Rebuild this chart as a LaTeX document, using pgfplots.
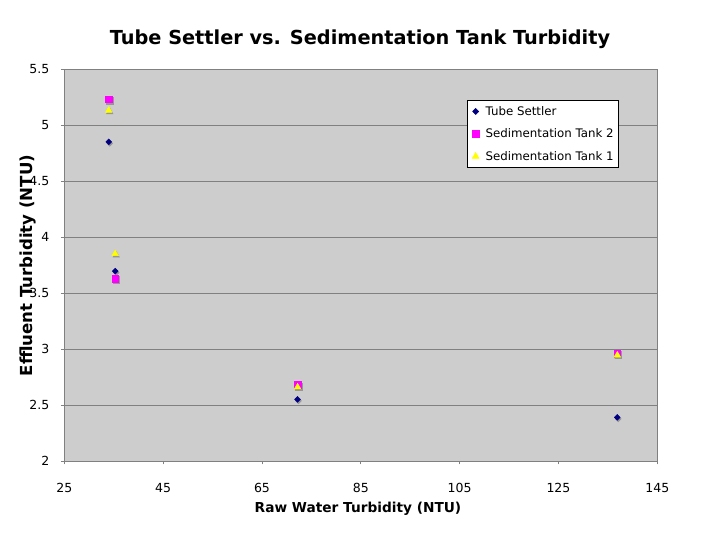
\documentclass[border=0pt]{standalone}
\usepackage{pgfplots}
\pgfplotsset{compat=1.18}
\usepackage{fontspec}
\setmainfont{DejaVu Sans}
\definecolor{plotbg}{RGB}{205,205,205}
\definecolor{gridc}{RGB}{128,128,128}
\definecolor{navyc}{RGB}{0,0,128}
\definecolor{magc}{RGB}{255,0,255}
\definecolor{yelc}{RGB}{255,255,0}
\definecolor{shadowc}{RGB}{150,150,150}
\pgfplotstableread{
x y
34.0 4.85
35.3 3.695
72.2 2.55
136.9 2.39
}\tube
\pgfplotstableread{
x y
34.0 5.23
35.3 3.63
72.2 2.68
136.9 2.96
}\tanktwo
\pgfplotstableread{
x y
34.0 5.13
35.3 3.85
72.2 2.66
136.9 2.945
}\tankone
\begin{document}
\begin{tikzpicture}
\path[use as bounding box, fill=white] (0bp,0bp) rectangle (720bp,540bp);
\begin{axis}[
  at={(64.3bp,79bp)}, anchor=south west,
  scale only axis, width=593bp, height=392bp,
  xmin=25, xmax=145, ymin=2, ymax=5.5,
  xtick={25,45,65,85,105,125,145},
  ytick={2,2.5,3,3.5,4,4.5,5,5.5},
  axis background/.style={fill=plotbg},
  axis line style={gridc, line width=0.8bp},
  ymajorgrids, major grid style={gridc, line width=0.8bp},
  tick style={gridc, line width=0.8bp},
  major tick length=3.5bp, tick align=outside,
  xtick pos=left, ytick pos=left,
  /pgf/number format/assume math mode=true,
  tick label style={font=\fontsize{12.5bp}{15bp}\selectfont, inner sep=0pt},
  xticklabel style={anchor=base, yshift=-28.3bp},
  yticklabel style={anchor=east, xshift=-11.3bp},
  legend style={at={(0.679,0.921)}, anchor=north west, draw=black, line width=0.6bp,
    fill=white, font=\fontsize{11.8bp}{14bp}\selectfont, row sep=8bp,
    inner xsep=5bp, inner ysep=4bp, nodes={inner xsep=0bp},
    /tikz/every odd column/.append style={column sep=6.6bp}},
  legend cell align=left,
]
\addplot[only marks, mark=square*, mark size=2.1bp, mark options={rotate=45}, draw=shadowc, fill=shadowc, xshift=1bp, yshift=-1.5bp, forget plot] table {\tube};
\addplot[only marks, mark=square*, mark size=2.1bp, mark options={rotate=45}, draw=navyc, fill=navyc] table {\tube};
\addlegendentry{Tube Settler}
\addplot[only marks, mark=square*, mark size=3.4bp, draw=shadowc, fill=shadowc, xshift=1bp, yshift=-1.5bp, forget plot] table {\tanktwo};
\addplot[only marks, mark=square*, mark size=3.4bp, draw=magc, fill=magc] table {\tanktwo};
\addlegendentry{Sedimentation Tank 2}
\addplot[only marks, mark=triangle*, mark size=3.8bp, draw=shadowc, fill=shadowc, xshift=1bp, yshift=-1.5bp, forget plot] table {\tankone};
\addplot[only marks, mark=triangle*, mark size=3.8bp, draw=yelc, fill=yelc] table {\tankone};
\addlegendentry{Sedimentation Tank 1}
\end{axis}
\node[anchor=base, font=\bfseries\fontsize{19.3bp}{23bp}\selectfont] at (360bp,495.7bp) {Tube Settler vs. Sedimentation Tank Turbidity};
\node[anchor=base, font=\bfseries\fontsize{13.7bp}{16bp}\selectfont] at (358bp,28bp) {Raw Water Turbidity (NTU)};
\node[anchor=base, rotate=90, font=\bfseries\fontsize{16.6bp}{19bp}\selectfont] at (32.5bp,274.5bp) {Effluent Turbidity (NTU)};
\end{tikzpicture}
\end{document}
